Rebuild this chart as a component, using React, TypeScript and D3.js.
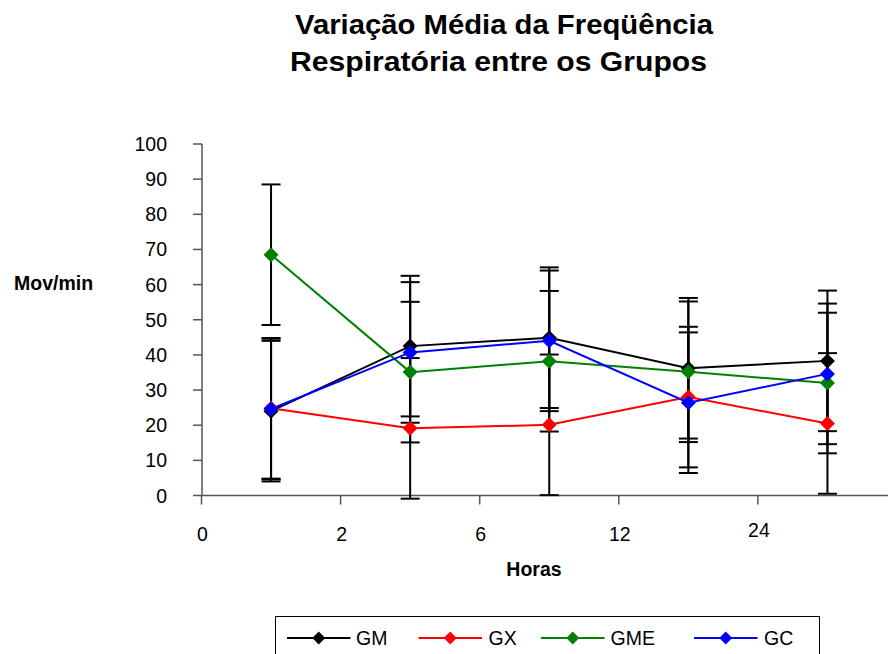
import React from "react";
import * as d3 from "d3";

const categories = ["0", "2", "6", "12", "24"];
const hourLabels = ["0", "2", "6", "12", "24"];
const yTicks = [0, 10, 20, 30, 40, 50, 60, 70, 80, 90, 100];
const seriesNames = ["GM", "GX", "GME", "GC"];
const seriesColors = ["#000000", "#ff0000", "#008000", "#0000ff"];
const gmValues = [24.0, 42.5, 44.9, 36.2, 38.3];
const gxValues = [24.8, 19.1, 20.1, 28.0, 20.5];
const gmeValues = [68.5, 35.1, 38.2, 35.2, 32.0];
const gcValues = [24.6, 40.7, 44.0, 26.4, 34.6];
const errorAmount = 20;

const W = 888;
const H = 654;
const FONT = "'Liberation Sans', Arial, Helvetica, sans-serif";

export default function App() {
  const seriesValues = [gmValues, gxValues, gmeValues, gcValues];
  const x = d3.scaleBand<string>().domain(categories).range([201.5, 897]).padding(0);
  const y = d3.scaleLinear().domain([0, 100]).range([495.5, 144]);
  const cx = (c: string) => (x(c) as number) + x.bandwidth() / 2;
  const line = d3
    .line<number>()
    .x((_, i) => cx(categories[i]))
    .y((d) => y(d));
  const diamond = (px: number, py: number, r: number) =>
    `M${px},${py - r}L${px + r},${py}L${px},${py + r}L${px - r},${py}Z`;

  const legendItems = [
    { lx: 287, tx: 356 },
    { lx: 418.5, tx: 488.5 },
    { lx: 541, tx: 610.5 },
    { lx: 694, tx: 764 },
  ];

  return (
    <svg
      width={W}
      height={H}
      style={{ position: "absolute", left: 0, top: 0, display: "block", background: "#fff" }}
      fontFamily={FONT}
    >
      <rect x={0} y={0} width={W} height={H} fill="#fff" />
      {/* Title */}
      <text
        x={504}
        y={34}
        textAnchor="middle"
        fontSize={27.5}
        fontWeight="bold"
        textLength={418}
        lengthAdjust="spacingAndGlyphs"
      >
        Variação Média da Freqüência
      </text>
      <text
        x={498.5}
        y={71}
        textAnchor="middle"
        fontSize={27.5}
        fontWeight="bold"
        textLength={417}
        lengthAdjust="spacingAndGlyphs"
      >
        Respiratória entre os Grupos
      </text>

      {/* Y axis */}
      <line x1={202} x2={202} y1={y(100)} y2={y(0)} stroke="#555" strokeWidth={1.5} />
      {yTicks.map((t) => (
        <g key={t}>
          <line x1={193} x2={202} y1={y(t)} y2={y(t)} stroke="#555" strokeWidth={1.5} />
          <text x={167} y={y(t) + 7} textAnchor="end" fontSize={19.5}>
            {t}
          </text>
        </g>
      ))}
      <text x={14} y={290} fontSize={19.5} fontWeight="bold">
        Mov/min
      </text>

      {/* X axis */}
      <line x1={202} x2={W} y1={y(0)} y2={y(0)} stroke="#555" strokeWidth={1.5} />
      {categories.map((c, i) => (
        <g key={c}>
          <line
            x1={x(c) as number}
            x2={x(c) as number}
            y1={y(0)}
            y2={y(0) + 9}
            stroke="#555"
            strokeWidth={1.5}
          />
          <text
            x={(x(c) as number) + 1}
            y={i === 4 ? 537 : 541}
            textAnchor="middle"
            fontSize={19.5}
          >
            {hourLabels[i]}
          </text>
        </g>
      ))}
      <text x={534} y={576} textAnchor="middle" fontSize={19.5} fontWeight="bold">
        Horas
      </text>

      {/* Error bars */}
      {seriesValues.map((vals, si) => (
        <g key={"e" + si}>
          {vals.map((v, i) => {
            const px = cx(categories[i]);
            const top = y(v + errorAmount);
            const bot = y(v - errorAmount);
            return (
              <g key={i} stroke="#000" strokeWidth={2}>
                <line x1={px} x2={px} y1={top} y2={bot} />
                <line x1={px - 9.5} x2={px + 9.5} y1={top} y2={top} />
                <line x1={px - 9.5} x2={px + 9.5} y1={bot} y2={bot} />
              </g>
            );
          })}
        </g>
      ))}

      {/* Lines and markers */}
      {seriesValues.map((vals, si) => (
        <g key={"s" + si}>
          <path d={line(vals) || ""} fill="none" stroke={seriesColors[si]} strokeWidth={2} />
          {vals.map((v, i) => (
            <path key={i} d={diamond(cx(categories[i]), y(v), 7.5)} fill={seriesColors[si]} />
          ))}
        </g>
      ))}

      {/* Legend */}
      <rect x={275.5} y={616.5} width={544} height={50} fill="#fff" stroke="#000" strokeWidth={1} />
      {seriesNames.map((n, si) => (
        <g key={n}>
          <line
            x1={legendItems[si].lx}
            x2={legendItems[si].lx + 63.5}
            y1={638}
            y2={638}
            stroke={seriesColors[si]}
            strokeWidth={2}
          />
          <path d={diamond(legendItems[si].lx + 31.75, 638, 6.5)} fill={seriesColors[si]} />
          <text x={legendItems[si].tx} y={645} fontSize={19.5}>
            {n}
          </text>
        </g>
      ))}
    </svg>
  );
}
